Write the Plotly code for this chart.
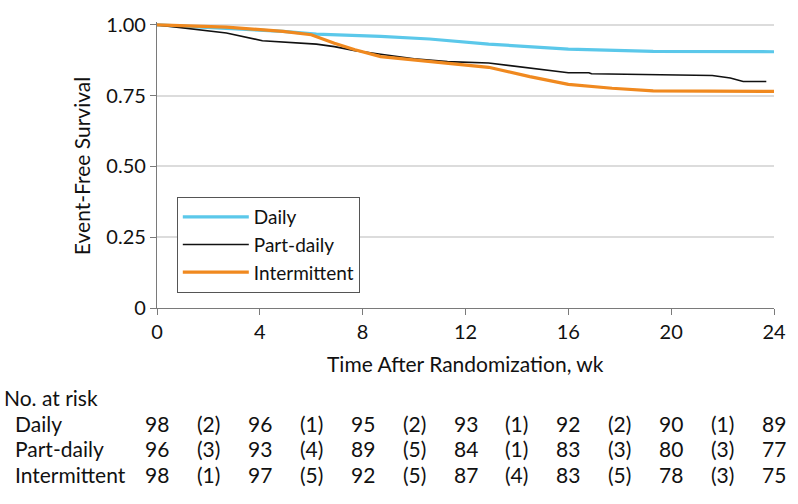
import plotly.graph_objects as go

# ---- data ----
daily_wk = [0, 2.7, 4.9, 6.2, 8.7, 10.6, 11.3, 12.4, 12.9, 16.0, 19.3, 24.0]
daily_s = [1.0, 0.988, 0.977, 0.967, 0.959, 0.950, 0.944, 0.935, 0.932, 0.914, 0.906, 0.905]

part_wk = [0, 2.7, 4.1, 6.2, 6.9, 7.7, 8.7, 10.0, 11.3, 12.9, 16.0, 16.8, 16.9, 21.6, 22.3, 22.8, 23.7]
part_s = [1.0, 0.971, 0.944, 0.932, 0.923, 0.909, 0.896, 0.880, 0.870, 0.865, 0.831, 0.831, 0.827, 0.821, 0.812, 0.800, 0.800]

inter_wk = [0, 2.7, 4.9, 6.0, 6.9, 7.7, 8.7, 10.0, 11.3, 12.4, 12.9, 14.5, 16.0, 17.7, 19.3, 24.0]
inter_s = [1.0, 0.992, 0.977, 0.965, 0.935, 0.912, 0.888, 0.876, 0.865, 0.853, 0.850, 0.817, 0.790, 0.776, 0.767, 0.765]

series_names = ["Daily", "Part-daily", "Intermittent"]

risk_weeks = [0, 4, 8, 12, 16, 20, 24]
cens_weeks = [2, 6, 10, 14, 18, 22]
risk_daily = [98, 96, 95, 93, 92, 90, 89]
cens_daily = [2, 1, 2, 1, 2, 1]
risk_part = [96, 93, 89, 84, 83, 80, 77]
cens_part = [3, 4, 5, 1, 3, 3]
risk_inter = [98, 97, 92, 87, 83, 78, 75]
cens_inter = [1, 5, 5, 4, 5, 3]

x_ticks = [0, 4, 8, 12, 16, 20, 24]
y_ticks = [0, 0.25, 0.5, 0.75, 1.0]
y_tick_labels = ["0", "0.25", "0.50", "0.75", "1.00"]

# ---- styling ----
FONT = "Lato, 'Liberation Sans', sans-serif"
CYAN = "#5BC8EA"
BLACK = "#111111"
ORANGE = "#F0891F"
AXIS = "#7a7a7a"
GRID = "#dcdcdc"

W, H = 798, 504
PLOT_L, PLOT_R = 157, 780
PLOT_B = 308
Y_MAX = 1.01
PLOT_T = PLOT_B - 283 * Y_MAX  # 1.0 sits at y=25
PH = PLOT_B - PLOT_T
PW = PLOT_R - PLOT_L


def py(ypix):
    return (PLOT_B - ypix) / PH


def px(xpix):
    return (xpix - PLOT_L) / PW


fig = go.Figure()
fig.add_trace(go.Scatter(x=daily_wk, y=daily_s, mode="lines", name=series_names[0],
                         line=dict(color=CYAN, width=3.2)))
fig.add_trace(go.Scatter(x=part_wk, y=part_s, mode="lines", name=series_names[1],
                         line=dict(color=BLACK, width=1.6)))
fig.add_trace(go.Scatter(x=inter_wk, y=inter_s, mode="lines", name=series_names[2],
                         line=dict(color=ORANGE, width=3.2)))

TXT = "#111"
annotations = []
# axis titles
annotations.append(dict(text="Time After Randomization, wk", xref="paper", yref="paper",
                        x=0.5, y=py(363), xanchor="center", yanchor="middle",
                        showarrow=False, font=dict(size=21, color=TXT)))
annotations.append(dict(text="Event-Free Survival", xref="paper", yref="paper",
                        x=px(81), y=py(166.5), xanchor="center", yanchor="middle",
                        textangle=-90, showarrow=False, font=dict(size=21, color=TXT)))

# at-risk table
TS = 21
annotations.append(dict(text="No. at risk", xref="paper", yref="paper", x=px(0), y=py(397),
                        xanchor="left", yanchor="middle", showarrow=False,
                        font=dict(size=TS, color=TXT)))
rows = [(series_names[0], risk_daily, cens_daily, 423),
        (series_names[1], risk_part, cens_part, 448),
        (series_names[2], risk_inter, cens_inter, 474)]
for label, risk, cens, ypix in rows:
    annotations.append(dict(text=label, xref="paper", yref="paper", x=px(12), y=py(ypix),
                            xanchor="left", yanchor="middle", showarrow=False,
                            font=dict(size=TS, color=TXT)))
    for wk, n in zip(risk_weeks, risk):
        annotations.append(dict(text=str(n), xref="x", yref="paper", x=wk, y=py(ypix),
                                xanchor="center", yanchor="middle", showarrow=False,
                                font=dict(size=TS, color=TXT)))
    for wk, c in zip(cens_weeks, cens):
        annotations.append(dict(text=f"({c})", xref="x", yref="paper", x=wk, y=py(ypix),
                                xanchor="center", yanchor="middle", showarrow=False,
                                font=dict(size=TS, color=TXT)))

fig.update_layout(
    width=W, height=H,
    margin=dict(l=PLOT_L, r=W - PLOT_R, t=PLOT_T, b=H - PLOT_B, pad=0),
    paper_bgcolor="white", plot_bgcolor="white",
    font=dict(family=FONT, size=19, color=TXT),
    showlegend=True,
    legend=dict(x=px(177), y=py(197), xanchor="left", yanchor="top",
                bgcolor="white", bordercolor="#555", borderwidth=1,
                font=dict(size=19, color=TXT), itemwidth=66,
                entrywidth=112, entrywidthmode="pixels",
                tracegroupgap=0),
    annotations=annotations,
)
fig.update_xaxes(range=[0, 24], tickvals=x_ticks, ticktext=[str(t) for t in x_ticks],
                 showline=True, linecolor=AXIS, linewidth=1.3, ticks="outside",
                 ticklen=6, tickcolor=AXIS, tickwidth=1.3, showgrid=False, zeroline=False,
                 tickfont=dict(size=20, color=TXT))
fig.update_yaxes(range=[0, Y_MAX], tickvals=y_ticks, ticktext=y_tick_labels,
                 showline=True, linecolor=AXIS, linewidth=1.3, ticks="outside",
                 ticklen=6, tickcolor=AXIS, tickwidth=1.3, showgrid=True,
                 gridcolor=GRID, gridwidth=1.5, zeroline=False,
                 tickfont=dict(size=20, color=TXT))

fig.write_html("out.html", config={"displayModeBar": False},
               post_script="document.body.style.margin='0';")
